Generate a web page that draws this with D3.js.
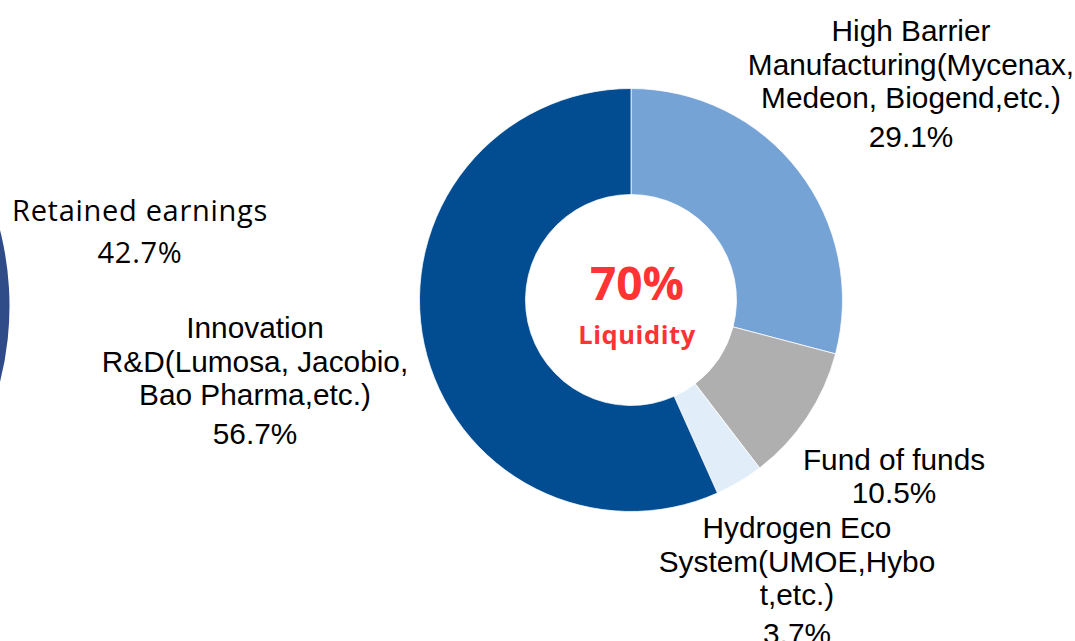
<!DOCTYPE html>
<html>
<head>
<meta charset="utf-8">
<script src="https://cdn.jsdelivr.net/npm/d3@7"></script>
<style>
  html, body { margin: 0; padding: 0; background: #fff; overflow: hidden; }
  .lbl { font-family: "Liberation Sans", Arial, sans-serif; font-size: 29.8px; fill: #000; }
</style>
</head>
<body>
<div class="container"></div>
<script>
// portfolio split (donut)
const categories = [
  ['High Barrier', 'Manufacturing(Mycenax,', 'Medeon, Biogend,etc.)'],
  ['Fund of funds'],
  ['Hydrogen Eco', 'System(UMOE,Hybo', 't,etc.)'],
  ['Innovation', 'R&D(Lumosa, Jacobio,', 'Bao Pharma,etc.)'],
];
const values = [29.1, 10.5, 3.7, 56.7];
const colors = ['#76a3d5', '#afafaf', '#e1eef9', '#024c91'];

// neighbouring pie, mostly off the left edge
const retainedLabels = ['Retained earnings', 'Other'];
const retainedValues = [42.7, 57.3];
const retainedColors = ['#2f4b88', '#9db3d8'];

const centerBig = '70%';
const centerSmall = 'Liquidity';

const width = 1075, height = 641;

const svg = d3.select('.container').append('svg')
  .attr('width', width)
  .attr('height', height);

// left pie (only a sliver shows)
const pieR = d3.pie().sort(null).value(d => d);
const arcR = d3.arc().innerRadius(0).outerRadius(309);
svg.append('g')
  .attr('transform', 'translate(-299.5,306)')
  .selectAll('path')
  .data(pieR(retainedValues))
  .join('path')
  .attr('fill', (d, i) => retainedColors[i])
  .attr('d', arcR);

// main donut
const cx = 631, cy = 300;
const pie = d3.pie().sort(null).value(d => d);
const arc = d3.arc().innerRadius(105.5).outerRadius(211.5);

const g = svg.append('g')
  .attr('transform', `translate(${cx},${cy})`);

g.selectAll('path')
  .data(pie(values))
  .join('path')
  .attr('fill', (d, i) => colors[i])
  .attr('stroke', '#fff')
  .attr('stroke-width', 0.75)
  .attr('d', arc);

// centre text
g.append('text')
  .attr('x', 6).attr('y', 0)
  .attr('text-anchor', 'middle')
  .style('font-family', '"Open Sans", sans-serif')
  .style('font-weight', 700)
  .style('font-size', '46px')
  .attr('fill', '#ff3333')
  .text(centerBig);
g.append('text')
  .attr('x', 6).attr('y', 44)
  .attr('text-anchor', 'middle')
  .style('font-family', '"Open Sans", sans-serif')
  .style('font-weight', 700)
  .style('font-size', '25.5px')
  .style('letter-spacing', '0.6px')
  .attr('fill', '#ff3333')
  .text(centerSmall);

// label placement (x centre, first baseline)
const labelPos = [
  { x: 911, y: 41 },
  { x: 894, y: 470 },
  { x: 797, y: 538 },
  { x: 255, y: 338 },
];
const lineH = 33.5;

categories.forEach((lines, i) => {
  const t = svg.append('text')
    .attr('class', 'lbl')
    .attr('text-anchor', 'middle')
    .attr('x', labelPos[i].x)
    .attr('y', labelPos[i].y);
  lines.forEach((s, j) => {
    t.append('tspan')
      .attr('x', labelPos[i].x)
      .attr('dy', j === 0 ? 0 : lineH)
      .text(s);
  });
  const gap = lines.length > 1 ? 38.5 : 33;
  t.append('tspan')
    .attr('x', labelPos[i].x)
    .attr('dy', gap)
    .text(d3.format('.1f')(values[i]) + '%');
});

// retained earnings label
const rt = svg.append('text')
  .attr('text-anchor', 'middle')
  .style('font-family', '"Open Sans", sans-serif')
  .style('font-size', '29px')
  .style('letter-spacing', '0.7px')
  .attr('fill', '#000');
rt.append('tspan').attr('x', 140).attr('y', 221).text(retainedLabels[0]);
rt.append('tspan').attr('x', 140).attr('y', 263).text(d3.format('.1f')(retainedValues[0]) + '%');
</script>
</body>
</html>
